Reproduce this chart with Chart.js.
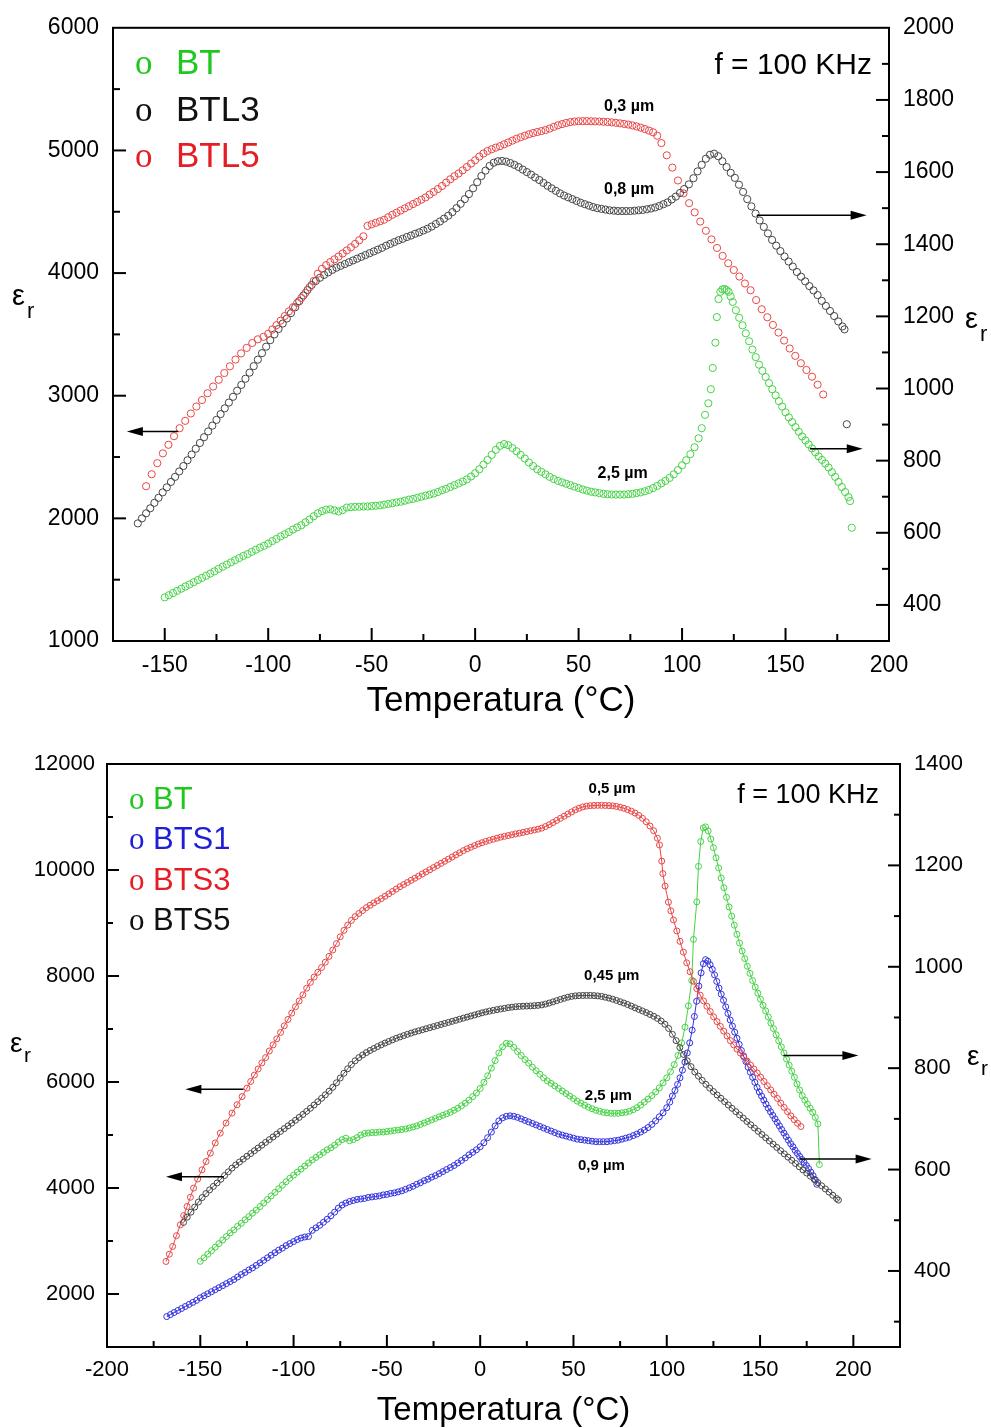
<!DOCTYPE html>
<html><head><meta charset="utf-8">
<script src="https://cdn.jsdelivr.net/npm/chart.js@4.4.1/dist/chart.umd.min.js"></script>
<style>
html,body{margin:0;padding:0;background:#fff;}
#c1{position:absolute;left:0;top:0;}
#c2{position:absolute;left:0;top:725px;}
</style></head><body>
<canvas id="c1" width="991" height="725"></canvas>
<canvas id="c2" width="991" height="703"></canvas>
<script>
// ===== DATA (temperature °C, epsilon_r) =====
// Top chart: BT, BTL3 (right axis), BTL5 (left axis)
const topBT = [[-150,421],[-148,427],[-146,433],[-144,439],[-142,445],[-140,451],[-138,457],[-136,463],[-134,469],[-132,475],[-130,481],[-128,487],[-126,493],[-124,500],[-122,506],[-120,512],[-118,518],[-116,524],[-114,530],[-112,536],[-110,541],[-108,547],[-106,553],[-104,559],[-102,564],[-100,570],[-98,577],[-96,583],[-94,590],[-92,596],[-90,602],[-88,609],[-86,615],[-84,621],[-82,629],[-80,637],[-78,646],[-76,654],[-74,660],[-72,664],[-70,665],[-68,662],[-66,659],[-64,663],[-62,670],[-60,671],[-58,672],[-56,672],[-54,673],[-52,673],[-50,674],[-48,675],[-46,676],[-44,678],[-42,680],[-40,682],[-38,684],[-36,686],[-34,689],[-32,692],[-30,694],[-28,697],[-26,700],[-24,703],[-22,706],[-20,709],[-18,713],[-16,718],[-14,722],[-12,727],[-10,732],[-8,737],[-6,742],[-4,748],[-2,756],[0,765],[2,776],[4,789],[6,802],[8,816],[10,830],[12,841],[14,846],[16,843],[18,835],[20,826],[22,816],[24,806],[26,795],[28,785],[30,776],[32,769],[34,762],[36,755],[38,749],[40,744],[42,740],[44,736],[46,732],[48,728],[50,724],[52,720],[54,717],[56,714],[58,712],[60,710],[62,708],[64,707],[66,706],[68,706],[70,706],[72,706],[74,707],[76,708],[78,710],[80,712],[82,715],[84,719],[86,724],[88,730],[90,737],[92,744],[94,752],[96,762],[98,774],[100,787],[102,801],[104,818],[106,837],[108,862],[109.5,890],[111.1,927],[112.7,959],[113.9,998],[114.8,1057],[116.1,1127],[116.8,1198],[117.6,1248],[118.5,1268],[119.5,1275],[120.5,1276],[121.5,1273],[122.5,1268],[123.5,1255],[124.5,1240],[126,1217],[127.6,1196],[129.2,1175],[130.8,1153],[132.4,1131],[134,1108],[135.6,1087],[137.2,1066],[138.8,1049],[140.4,1032],[142,1015],[143.6,998],[145.2,981],[146.8,965],[148.4,950],[150,934],[151.6,920],[153.2,907],[154.8,893],[156.4,880],[158,867],[159.6,856],[161.2,845],[162.8,834],[164.4,823],[166,812],[167.6,802],[169.2,792],[170.8,781],[172.4,768],[174,755],[175.6,741],[177.2,727],[178.8,713],[180.4,699],[181.2,688],[182,614]];
const topBTL3 = [[-163,626],[-161,640],[-159,654],[-157,668],[-155,683],[-153,697],[-151,712],[-149,726],[-147,741],[-145,755],[-143,770],[-141,785],[-139,801],[-137,817],[-135,833],[-133,849],[-131,865],[-129,881],[-127,897],[-125,913],[-123,929],[-121,945],[-119,961],[-117,977],[-115,994],[-113,1010],[-111,1027],[-109,1044],[-107,1062],[-105,1080],[-103,1098],[-101,1116],[-99,1134],[-97,1150],[-95,1165],[-93,1180],[-91,1194],[-89,1209],[-87,1225],[-85,1242],[-83,1258],[-81,1273],[-79,1287],[-77,1298],[-75,1307],[-73,1315],[-71,1322],[-69,1329],[-67,1335],[-65,1340],[-63,1345],[-61,1350],[-59,1355],[-57,1360],[-55,1365],[-53,1370],[-51,1375],[-49,1380],[-47,1385],[-45,1390],[-43,1396],[-41,1401],[-39,1406],[-37,1411],[-35,1415],[-33,1420],[-31,1424],[-29,1429],[-27,1433],[-25,1438],[-23,1443],[-21,1449],[-19,1456],[-17,1463],[-15,1471],[-13,1479],[-11,1489],[-9,1500],[-7,1512],[-5,1525],[-3,1539],[-1,1555],[1,1572],[3,1589],[5,1604],[7,1617],[9,1626],[11,1630],[13,1631],[15,1629],[17,1625],[19,1620],[21,1614],[23,1607],[25,1600],[27,1593],[29,1585],[31,1578],[33,1570],[35,1562],[37,1555],[39,1548],[41,1541],[43,1535],[45,1530],[47,1525],[49,1520],[51,1515],[53,1511],[55,1507],[57,1503],[59,1500],[61,1498],[63,1496],[65,1494],[67,1493],[69,1492],[71,1492],[73,1492],[75,1492],[77,1493],[79,1494],[81,1495],[83,1497],[85,1499],[87,1502],[89,1506],[91,1511],[93,1516],[95,1524],[97,1532],[99,1542],[101,1553],[103.3,1566],[105.5,1583],[107.5,1602],[109.5,1620],[111.5,1637],[113.5,1648],[115.5,1651],[117.5,1644],[119.5,1630],[121.5,1614],[123.5,1598],[125.5,1584],[127.5,1565],[129.5,1545],[131.5,1525],[133.5,1505],[135.5,1485],[137.5,1466],[139.5,1448],[141.5,1430],[143.5,1412],[145.5,1396],[147.5,1381],[149.5,1366],[151.5,1352],[153.5,1338],[155.5,1323],[157.5,1310],[159.5,1297],[161.5,1284],[163.5,1272],[165.5,1259],[167.5,1243],[169.5,1229],[171.5,1215],[173.5,1201],[175.5,1186],[177.5,1172],[178.5,1164],[179.6,901]];
const topBTL5 = [[-159,2262],[-156.3,2360],[-153.6,2450],[-150.9,2530],[-148.2,2600],[-145.5,2670],[-142.8,2735],[-140.1,2795],[-137.4,2855],[-134.7,2912],[-132,2965],[-129.3,3020],[-126.6,3075],[-123.9,3130],[-121.2,3185],[-118.5,3240],[-115.8,3295],[-113.1,3345],[-110.4,3390],[-107.7,3430],[-105,3460],[-102.3,3480],[-100,3505],[-98,3540],[-96,3575],[-94,3612],[-92,3650],[-90,3688],[-88,3722],[-86,3758],[-84,3797],[-82,3838],[-80,3885],[-78,3935],[-76,3995],[-74,4035],[-72,4065],[-70,4090],[-68,4112],[-66,4135],[-64,4160],[-62,4185],[-60,4210],[-58,4238],[-56,4268],[-54,4300],[-52,4385],[-50,4398],[-48,4410],[-46,4422],[-44,4435],[-42,4455],[-40,4475],[-38,4492],[-36,4510],[-34,4528],[-32,4545],[-30,4563],[-28,4580],[-26,4598],[-24,4617],[-22,4640],[-20,4662],[-18,4685],[-16,4710],[-14,4738],[-12,4765],[-10,4790],[-8,4812],[-6,4838],[-4,4865],[-2,4893],[0,4920],[2,4950],[4,4975],[6,4995],[8,5010],[10,5023],[12,5035],[14,5050],[16,5065],[18,5080],[20,5095],[22,5108],[24,5120],[26,5132],[28,5142],[30,5150],[32,5158],[34,5166],[36,5178],[38,5192],[40,5205],[42,5215],[44,5224],[46,5231],[48,5236],[50,5238],[52,5239],[54,5239],[56,5238],[58,5237],[60,5236],[62,5234],[64,5232],[66,5229],[68,5225],[70,5221],[72,5216],[74,5211],[76,5204],[78,5196],[80,5186],[82,5175],[84,5162],[86,5148],[88,5120],[90,5060],[92.6,4960],[95.3,4860],[98,4755],[100.7,4650],[103.4,4570],[106.1,4495],[108.8,4420],[111.5,4345],[114.2,4275],[116.9,4205],[119.6,4140],[122.3,4080],[125,4025],[127.7,3972],[130.4,3915],[133.1,3860],[135.8,3780],[138.5,3705],[141.2,3640],[143.9,3577],[146.6,3515],[149.3,3450],[152,3385],[154.7,3325],[157.4,3265],[160.1,3210],[162.8,3155],[165.5,3090],[168.2,3010]];

// Bottom chart: BTS3, BTS5 (left axis), BT, BTS1 (right axis)
const botBTS3 = [[-168.4,2614],[-166.6,2750],[-164.8,2897],[-162.8,3100],[-160.7,3306],[-158.9,3480],[-157.1,3651],[-155.3,3825],[-153.6,3998],[-151.4,4170],[-149.1,4343],[-146.9,4500],[-144.6,4658],[-142,4850],[-139.3,5035],[-136.2,5225],[-133,5413],[-130.3,5570],[-127.6,5725],[-125,5884],[-123,6010],[-121,6130],[-119,6245],[-117,6360],[-115,6460],[-113,6585],[-111,6700],[-109,6815],[-107,6935],[-105,7060],[-103,7180],[-101,7300],[-99,7420],[-97,7530],[-95,7645],[-93,7770],[-91,7880],[-89,7980],[-87,8070],[-85,8160],[-83,8260],[-81,8370],[-79,8490],[-77,8610],[-75,8740],[-73,8860],[-71,8960],[-69,9050],[-67,9120],[-65,9180],[-63,9235],[-61,9290],[-59,9335],[-57,9380],[-55,9420],[-53,9460],[-51,9505],[-49,9550],[-47,9595],[-45,9640],[-43,9685],[-41,9725],[-39,9765],[-37,9805],[-35,9845],[-33,9885],[-31,9925],[-29,9965],[-27,10005],[-25,10045],[-23,10085],[-21,10125],[-19,10165],[-17,10205],[-15,10245],[-13,10285],[-11,10325],[-9,10365],[-7,10400],[-5,10430],[-3,10460],[-1,10490],[1,10515],[3,10540],[5,10560],[7,10580],[9,10600],[11,10620],[13,10635],[15,10650],[17,10665],[19,10680],[21,10695],[23,10710],[25,10725],[27,10740],[29,10755],[31,10770],[33,10790],[35,10820],[37,10855],[39,10895],[41,10935],[43,10975],[45,11015],[47,11055],[49,11095],[51,11135],[53,11165],[55,11190],[57,11205],[59,11213],[61,11218],[63,11220],[65,11220],[67,11218],[69,11215],[71,11210],[73,11200],[75,11185],[77,11165],[79,11140],[81,11110],[83,11075],[85,11030],[87,10975],[89,10910],[91,10830],[93,10740],[95,10600],[96.1,10472],[97.3,10168],[97.9,9933],[99.1,9697],[100.9,9395],[102.2,9230],[103.6,9058],[105.4,8850],[107.1,8654],[108.9,8450],[110.7,8249],[112.5,8080],[114.3,7900],[116.1,7760],[117.9,7640],[119.7,7530],[121.5,7430],[123.3,7330],[125.1,7230],[126.9,7140],[128.7,7050],[130.5,6960],[132.3,6870],[134.1,6780],[135.9,6700],[137.7,6620],[139.5,6545],[141.3,6470],[143.1,6395],[144.9,6320],[146.7,6245],[148.5,6170],[150.3,6090],[152.1,6010],[153.9,5930],[155.7,5850],[157.5,5770],[159.3,5690],[161.1,5600],[162.9,5520],[164.7,5440],[166.5,5360],[168.3,5290],[170.1,5220],[171.9,5160]];
const botBTS5 = [[-159,3350],[-157,3450],[-155,3545],[-153,3640],[-151,3735],[-149,3820],[-147,3895],[-145,3965],[-143,4030],[-141,4095],[-139,4165],[-137,4235],[-135,4305],[-133,4375],[-131,4435],[-129,4490],[-127,4545],[-125,4598],[-123,4650],[-121,4703],[-119,4755],[-117,4808],[-115,4860],[-113,4912],[-111,4964],[-109,5016],[-107,5068],[-105,5120],[-103,5172],[-101,5224],[-99,5278],[-97,5332],[-95,5388],[-93,5446],[-91,5505],[-89,5566],[-87,5628],[-85,5692],[-83,5758],[-81,5826],[-79,5900],[-77,5985],[-75,6075],[-73,6165],[-71,6250],[-69,6330],[-67,6400],[-65,6460],[-63,6510],[-61,6555],[-59,6595],[-57,6632],[-55,6668],[-53,6702],[-51,6735],[-49,6765],[-47,6795],[-45,6823],[-43,6850],[-41,6875],[-39,6900],[-37,6922],[-35,6945],[-33,6965],[-31,6985],[-29,7005],[-27,7025],[-25,7045],[-23,7065],[-21,7085],[-19,7105],[-17,7125],[-15,7145],[-13,7165],[-11,7185],[-9,7205],[-7,7225],[-5,7245],[-3,7265],[-1,7285],[1,7305],[3,7322],[5,7338],[7,7352],[9,7365],[11,7378],[13,7390],[15,7402],[17,7412],[19,7420],[21,7426],[23,7430],[25,7433],[27,7436],[29,7440],[31,7446],[33,7455],[35,7470],[37,7490],[39,7512],[41,7535],[43,7558],[45,7580],[47,7600],[49,7615],[51,7625],[53,7630],[55,7633],[57,7634],[59,7633],[61,7630],[63,7624],[65,7615],[67,7600],[69,7583],[71,7563],[73,7540],[75,7515],[77,7490],[79,7462],[81,7432],[83,7400],[85,7370],[87,7340],[89,7310],[91,7275],[93,7240],[95,7200],[97,7150],[99,7090],[101,7010],[103,6900],[105,6780],[107,6650],[109,6520],[111,6400],[113,6290],[115,6190],[117,6110],[119,6030],[121,5955],[123,5885],[125,5820],[127,5755],[129,5692],[131,5629],[133,5566],[135,5503],[137,5441],[139,5379],[141,5317],[143,5255],[145,5193],[147,5131],[149,5070],[151,5009],[153,4948],[155,4887],[157,4826],[159,4765],[161,4704],[163,4643],[165,4582],[167,4522],[169,4462],[171,4402],[173,4342],[175,4282],[177,4222],[179,4162],[181,4102],[183,4042],[185,3982],[187,3922],[189,3862],[191,3802],[192,3772]];
const botBT = [[-150,419],[-148,426],[-146,433],[-144,440],[-142,447],[-140,454],[-138,461],[-136,468],[-134,475],[-132,481],[-130,488],[-128,494],[-126,501],[-124,507],[-122,514],[-120,520],[-118,527],[-116,534],[-114,541],[-112,548],[-110,555],[-108,562],[-106,569],[-104,576],[-102,583],[-100,589],[-98,595],[-96,601],[-94,607],[-92,613],[-90,619],[-88,624],[-86,629],[-84,634],[-82,639],[-80,643],[-78,648],[-76,654],[-74,659],[-72,662],[-70,657],[-68,659],[-66,663],[-64,668],[-62,671],[-60,672],[-58,673],[-56,673],[-54,674],[-52,674],[-50,675],[-48,676],[-46,677],[-44,678],[-42,679],[-40,680],[-38,682],[-36,684],[-34,686],[-32,689],[-30,692],[-28,695],[-26,698],[-24,701],[-22,704],[-20,707],[-18,710],[-16,713],[-14,717],[-12,721],[-10,726],[-8,731],[-6,737],[-4,744],[-2,751],[0,760],[2,772],[4,785],[6,800],[8,815],[10,830],[12,842],[14,849],[16,848],[18,841],[20,833],[22,825],[24,817],[26,810],[28,802],[30,795],[32,788],[34,781],[36,775],[38,770],[40,765],[42,760],[44,755],[46,750],[48,745],[50,740],[52,735],[54,731],[56,727],[58,723],[60,720],[62,717],[64,715],[66,713],[68,712],[70,711],[72,711],[74,711],[76,712],[78,713],[80,715],[82,718],[84,722],[86,727],[88,733],[90,739],[92,746],[94,753],[96,761],[98,771],[100,781],[102,793],[104,807],[106,825],[108,850],[109.8,881],[111.6,923],[113.4,973],[114.3,1054],[116.1,1128],[117,1198],[118.2,1247],[119.6,1274],[120.8,1276],[122.2,1268],[123.6,1252],[125,1235],[126.4,1215],[127.8,1195],[129.2,1175],[130.6,1156],[132,1137],[133.4,1118],[134.8,1100],[136.2,1082],[137.6,1064],[139,1047],[140.4,1031],[141.8,1016],[143.2,1001],[144.6,987],[146,973],[147.4,960],[148.8,948],[150.2,936],[151.6,924],[153,913],[154.4,901],[155.8,889],[157.2,878],[158.6,866],[160,854],[161.4,842],[162.8,830],[164.2,818],[165.6,806],[167,794],[168.4,782],[169.8,769],[171.2,757],[172.6,746],[174,737],[175.4,729],[176.8,721],[178.2,713],[179.6,703],[181,690],[181.8,610]];
const botBTS1 = [[-168,310],[-166,314],[-164,318],[-162,322],[-160,326],[-158,330],[-156,334],[-154,338],[-152,342],[-150,347],[-148,351],[-146,355],[-144,359],[-142,363],[-140,367],[-138,371],[-136,375],[-134,379],[-132,383],[-130,388],[-128,393],[-126,397],[-124,402],[-122,406],[-120,411],[-118,416],[-116,421],[-114,426],[-112,431],[-110,436],[-108,441],[-106,445],[-104,450],[-102,454],[-100,458],[-98,462],[-96,465],[-94,467],[-92,468],[-90,480],[-88,485],[-86,490],[-84,496],[-82,502],[-80,509],[-78,516],[-76,524],[-74,530],[-72,534],[-70,537],[-68,539],[-66,541],[-64,542],[-62,543],[-60,545],[-58,546],[-56,547],[-54,548],[-52,550],[-50,551],[-48,553],[-46,554],[-44,556],[-42,558],[-40,561],[-38,564],[-36,567],[-34,571],[-32,574],[-30,578],[-28,581],[-26,585],[-24,588],[-22,592],[-20,596],[-18,600],[-16,604],[-14,608],[-12,613],[-10,618],[-8,623],[-6,629],[-4,634],[-2,639],[0,645],[2,653],[4,663],[6,674],[8,686],[10,696],[12,702],[14,705],[16,706],[18,705],[20,703],[22,700],[24,697],[26,694],[28,691],[30,688],[32,685],[34,682],[36,679],[38,676],[40,673],[42,670],[44,668],[46,666],[48,664],[50,662],[52,660],[54,659],[56,658],[58,657],[60,656],[62,655],[64,655],[66,655],[68,655],[70,656],[72,657],[74,658],[76,660],[78,662],[80,664],[82,667],[84,670],[86,674],[88,678],[90,683],[92,689],[94,696],[96,704],[98,712],[100,722],[101.6,733],[103,745],[104.4,756],[105.8,768],[107.1,781],[108.4,796],[109.7,812],[111,830],[112.3,850],[113.6,875],[114.8,902],[116,932],[117.2,962],[118.4,988],[119.6,1006],[120.8,1014],[122,1011],[123.2,1004],[124.4,995],[125.6,984],[126.8,971],[128,958],[129.2,946],[130.4,934],[131.6,921],[132.8,908],[134,895],[135.2,883],[136.4,871],[137.6,859],[138.8,847],[140,835],[141.2,824],[142.4,813],[143.6,802],[144.8,792],[146,782],[147.2,772],[148.4,762],[149.6,753],[150.8,745],[152,737],[153.2,729],[154.4,721],[155.6,714],[156.8,707],[158,700],[159.2,693],[160.4,686],[161.6,679],[162.8,672],[164,665],[165.2,658],[166.4,651],[167.6,645],[168.8,638],[170,632],[171.2,626],[172.4,620],[173.6,614],[174.8,608],[176,602],[177.2,595],[178.4,588],[179.6,580],[180.4,571]];

// Axis tick definitions
const topXTicks = {min:-175, max:200, step:25, label:50};
const topYLTicks = {min:1000, max:6000, step:500, label:1000};
const topYRTicks = {min:300, max:2000, step:100, label:200};
const botXTicks = {min:-200, max:225, step:25, label:50};
const botYLTicks = {min:1000, max:12000, step:1000, label:2000};
const botYRTicks = {min:250, max:1400, step:100, label:200};

// Annotations (data coordinates)
const topNotes = [
  {text:'0,3 \u00b5m', x:74.4, y:1768, axis:'yR'},
  {text:'0,8 \u00b5m', x:74.4, y:1538, axis:'yR'},
  {text:'2,5 \u00b5m', x:71.3, y:752, axis:'yR'}
];
const botNotes = [
  {text:'0,5 \u00b5m', x:70.7, y:1342, axis:'yR'},
  {text:'0,45 \u00b5m', x:70.5, y:974, axis:'yR'},
  {text:'2,5 \u00b5m', x:68.7, y:738, axis:'yR'},
  {text:'0,9 \u00b5m', x:65, y:600, axis:'yR'}
];
const topArrows = [
  {axis:'yL', y:2708, from:-143.5, to:-168.3},
  {axis:'yR', y:1480, from:136.1, to:189.2},
  {axis:'yR', y:833, from:161.8, to:187.3}
];
const botArrows = [
  {axis:'yL', y:5865, from:-126.8, to:-158},
  {axis:'yL', y:4211, from:-137.5, to:-168.4},
  {axis:'yR', y:825, from:162.5, to:202.7},
  {axis:'yR', y:621, from:171.4, to:209.8}
];

const SANS = "'Liberation Sans', Arial, Helvetica, sans-serif";
const SERIF = "'Liberation Serif', 'Times New Roman', serif";
const GREEN = 'rgb(30,200,30)', RED = 'rgb(228,30,36)', BLACK = '#111', BLUE = 'rgb(30,30,215)';
const MG = 'rgb(70,210,70)', MR = 'rgb(232,70,70)', MK = 'rgb(70,70,70)', MB = 'rgb(50,50,222)';

function pts(arr){ return arr.map(p => ({x:p[0], y:p[1]})); }
function isMult(v, s){ return Math.abs(v/s - Math.round(v/s)) < 1e-6; }

function makeOverlay(cfg){
  return {
    id: 'overlay',
    afterDatasetsDraw(chart){
      const ctx = chart.ctx, a = chart.chartArea;
      const sx = chart.scales.x;
      ctx.save();
      ctx.strokeStyle = '#000'; ctx.lineWidth = 2;
      ctx.strokeRect(a.left, a.top, a.right - a.left, a.bottom - a.top);
      const tk = (scale, def, side) => {
        scale.ticks.forEach(t => {
          const v = t.value;
          if (v <= def.min + 1e-9 || v >= def.max - 1e-9) return;
          const len = isMult(v, def.label) ? cfg.tMaj : cfg.tMin;
          const p = scale.getPixelForValue(v);
          ctx.beginPath();
          if (side === 'x') { ctx.moveTo(p, a.bottom); ctx.lineTo(p, a.bottom - len); }
          else if (side === 'l') { ctx.moveTo(a.left, p); ctx.lineTo(a.left + len, p); }
          else { ctx.moveTo(a.right, p); ctx.lineTo(a.right - len, p); }
          ctx.stroke();
        });
      };
      tk(sx, cfg.xT, 'x'); tk(chart.scales.yL, cfg.lT, 'l'); tk(chart.scales.yR, cfg.rT, 'r');
      // arrows
      ctx.lineWidth = 1.5; ctx.fillStyle = '#000';
      cfg.arrows.forEach(ar => {
        const y = chart.scales[ar.axis].getPixelForValue(ar.y);
        const x1 = sx.getPixelForValue(ar.from), x2 = sx.getPixelForValue(ar.to);
        const d = x2 > x1 ? 1 : -1;
        ctx.beginPath(); ctx.moveTo(x1, y); ctx.lineTo(x2 - d*10, y); ctx.stroke();
        ctx.beginPath(); ctx.moveTo(x2, y); ctx.lineTo(x2 - d*16, y - 4.5); ctx.lineTo(x2 - d*16, y + 4.5); ctx.closePath(); ctx.fill();
      });
      // curve labels
      ctx.fillStyle = '#000'; ctx.textAlign = 'center'; ctx.textBaseline = 'alphabetic';
      ctx.font = 'bold ' + cfg.noteSize + 'px ' + SANS;
      cfg.notes.forEach(n => {
        ctx.fillText(n.text, sx.getPixelForValue(n.x), chart.scales[n.axis].getPixelForValue(n.y));
      });
      // frequency
      ctx.textAlign = 'right'; ctx.font = cfg.fSize + 'px ' + SANS;
      ctx.fillText('f = 100 KHz', a.right + cfg.fDx, a.top + cfg.fDy);
      // legend
      cfg.legend.items.forEach((it, i) => {
        const by = a.top + cfg.legend.y0 + i * cfg.legend.dy;
        ctx.fillStyle = it.color; ctx.textAlign = 'left';
        ctx.font = cfg.legend.size + 'px ' + SERIF;
        ctx.fillText('o', a.left + cfg.legend.ox, by);
        ctx.font = cfg.legend.size + 'px ' + SANS;
        ctx.fillText(it.name, a.left + cfg.legend.tx, by);
      });
      // y titles (epsilon_r)
      ctx.fillStyle = '#000'; ctx.textAlign = 'left';
      cfg.ytitles.forEach(t => {
        ctx.font = cfg.epsSize + 'px ' + SANS;
        ctx.fillText('\u03b5', t.x, t.y);
        ctx.font = cfg.subSize + 'px ' + SANS;
        ctx.fillText('r', t.x + cfg.subDx, t.y + cfg.subDy);
      });
      ctx.restore();
    }
  };
}

function makeChart(id, o){
  const tickFont = {family: SANS, size: o.tickSize};
  const lin = (def, pos, w, pad) => ({
    type: 'linear', position: pos, min: def.min, max: def.max,
    grid: {display: false, drawTicks: false}, border: {display: false},
    ticks: {stepSize: def.step, autoSkip: false, maxRotation: 0, color: '#000', font: tickFont, padding: pad,
      callback: v => isMult(v, def.label) ? String(v) : ''},
    afterFit: s => { if (pos === 'bottom') s.height = w; else s.width = w; }
  });
  const x = lin(o.xT, 'bottom', o.xH, o.xPad);
  x.title = {display: true, text: 'Temperatura (\u00b0C)', color: '#000',
    font: {family: SANS, size: o.titleSize, lineHeight: 1}, padding: {top: 0, bottom: o.titlePad}};
  return new Chart(document.getElementById(id), {
    type: 'scatter',
    data: {datasets: o.datasets},
    options: {
      responsive: false, animation: false, devicePixelRatio: 1,
      layout: {padding: {top: o.padTop, left: 0, right: 0, bottom: 0}},
      plugins: {legend: {display: false}, tooltip: {enabled: false}},
      elements: {point: {radius: o.r, borderWidth: 1.1, backgroundColor: 'rgba(0,0,0,0)', hoverRadius: o.r}},
      scales: {
        x: x,
        yL: lin(o.lT, 'left', o.lW, o.lPad),
        yR: lin(o.rT, 'right', o.rW, o.rPad)
      }
    },
    plugins: [makeOverlay(o)]
  });
}

const ds = (label, arr, color, axis, line) => ({
  label: label, data: pts(arr), yAxisID: axis, borderColor: color, pointBorderColor: color,
  backgroundColor: 'rgba(0,0,0,0)', showLine: !!line, borderWidth: 1, tension: 0
});

makeChart('c1', {
  datasets: [ds('BTL5', topBTL5, MR, 'yL'), ds('BTL3', topBTL3, MK, 'yR'), ds('BT', topBT, MG, 'yR')],
  xT: topXTicks, lT: topYLTicks, rT: topYRTicks,
  padTop: 24, lW: 113, rW: 102, xH: 84, tickSize: 23, xPad: 11, lPad: 14, rPad: 14,
  titleSize: 35, titlePad: 6, r: 3.6, tMaj: 13, tMin: 7,
  arrows: topArrows, notes: topNotes, noteSize: 16, fSize: 30, fDx: -17, fDy: 46,
  legend: {size: 35, ox: 22, tx: 63, y0: 46, dy: 46.7, items: [
    {name: 'BT', color: GREEN}, {name: 'BTL3', color: BLACK}, {name: 'BTL5', color: RED}]},
  ytitles: [{x: 12, y: 305}, {x: 965, y: 328}], epsSize: 29, subSize: 22, subDx: 15, subDy: 13
});

makeChart('c2', {
  datasets: [ds('BTS5', botBTS5, MK, 'yL', true), ds('BTS3', botBTS3, MR, 'yL', true),
             ds('BTS1', botBTS1, MB, 'yR', true), ds('BT', botBT, MG, 'yR', true)],
  xT: botXTicks, lT: botYLTicks, rT: botYRTicks,
  padTop: 39, lW: 107, rW: 91, xH: 81, tickSize: 22, xPad: 10, lPad: 12, rPad: 14,
  titleSize: 33, titlePad: 1, r: 3.0, tMaj: 12, tMin: 6,
  arrows: botArrows, notes: botNotes, noteSize: 15, fSize: 27, fDx: -21, fDy: 39,
  legend: {size: 31, ox: 22, tx: 46, y0: 45, dy: 40.3, items: [
    {name: 'BT', color: GREEN}, {name: 'BTS1', color: BLUE}, {name: 'BTS3', color: RED}, {name: 'BTS5', color: BLACK}]},
  ytitles: [{x: 10, y: 327}, {x: 967, y: 340}], epsSize: 28, subSize: 21, subDx: 14, subDy: 10
});
</script>
</body></html>
